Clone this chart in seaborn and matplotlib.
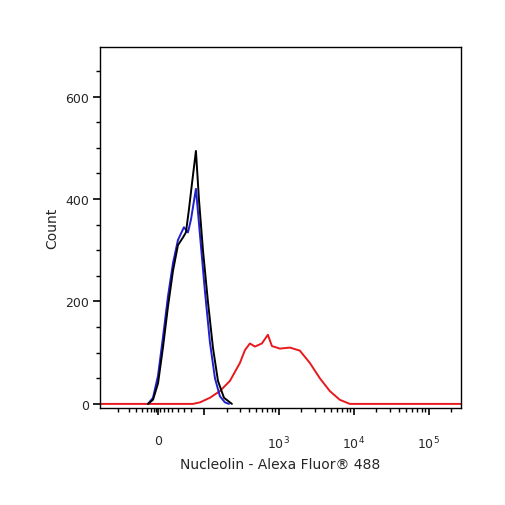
import matplotlib
matplotlib.use("Agg")
import matplotlib.pyplot as plt
import numpy as np
import pandas as pd
import seaborn as sns

# x positions are in display decades (biexponential-like axis), y is count
black_x = [1.253, 1.32, 1.387, 1.453, 1.52, 1.587, 1.653, 1.72, 1.76, 1.80, 1.84, 1.893, 1.933, 1.987, 2.053, 2.12, 2.187, 2.267, 2.373]
black_y = [0, 8, 40, 110, 190, 260, 310, 325, 335, 380, 430, 494, 400, 300, 200, 110, 45, 12, 0]
blue_x = [1.253, 1.32, 1.387, 1.453, 1.52, 1.587, 1.653, 1.733, 1.787, 1.827, 1.893, 1.947, 2.013, 2.08, 2.147, 2.213, 2.28, 2.333]
blue_y = [0, 12, 55, 130, 210, 275, 320, 345, 335, 360, 420, 330, 220, 120, 50, 15, 3, 0]
red_x = [0.613, 1.853, 1.947, 2.08, 2.213, 2.347, 2.48, 2.547, 2.613, 2.68, 2.773, 2.853, 2.907, 3.013, 3.147, 3.28, 3.413, 3.547, 3.68, 3.813, 3.947, 4.013, 5.43]
red_y = [0, 0, 3, 12, 25, 45, 80, 105, 118, 112, 118, 135, 113, 108, 110, 104, 80, 50, 25, 8, 0, 0, 0]

xtick_pos = [1.387, 2.0, 3.0, 4.0, 5.0]
xtick_labels = ["0", "", "$10^3$", "$10^4$", "$10^5$"]

sns.set_style("white")
fig = plt.figure(figsize=(5.06, 5.06), dpi=100)
ax = fig.add_axes([100/506, 1-409/506, 361/506, 361/506])

for xs, ys, c in [(red_x, red_y, "#e8191c"), (blue_x, blue_y, "#1f1fd0"), (black_x, black_y, "black")]:
    df = pd.DataFrame({"x": xs, "y": ys})
    sns.lineplot(data=df, x="x", y="y", color=c, lw=1.4, ax=ax)

ax.set_xlim(0.613, 5.43)
ax.set_ylim(-8, 697)
ax.set_xticks(xtick_pos)
ax.set_xticklabels(xtick_labels, fontsize=9)
minor = []
for d in [2, 3, 4]:
    minor += [d + np.log10(k) for k in range(2, 10)]
minor += [0.85, 1.0, 1.1, 1.18, 1.24, 1.29, 1.33, 1.36, 1.42, 1.47, 1.52, 1.58, 1.65, 1.73, 1.83, 5.3]
ax.set_xticks(minor, minor=True)
ax.set_yticks([0, 200, 400, 600])
ax.set_yticklabels(["0", "200", "400", "600"], fontsize=9)
ax.set_yticks(np.arange(0, 700, 50), minor=True)
ax.tick_params(axis="both", which="major", direction="out", length=5, width=1.2, color="black", bottom=True, left=True)
ax.tick_params(axis="both", which="minor", direction="out", length=3, width=1, color="black", bottom=True, left=True)
ax.tick_params(axis="x", pad=14)
ax.tick_params(axis="y", pad=3)
for s in ax.spines.values():
    s.set_color("black")
    s.set_linewidth(1)
ax.set_xlabel("Nucleolin - Alexa Fluor® 488", fontsize=10)
ax.set_ylabel("Count", fontsize=10)
fig.savefig("out.png", dpi=100)
